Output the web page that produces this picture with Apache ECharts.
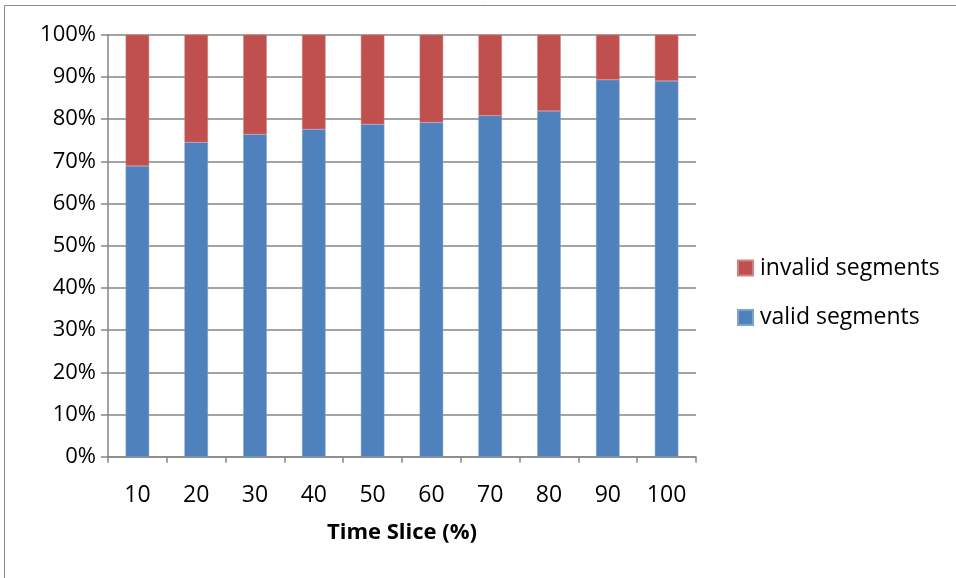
<!DOCTYPE html>
<html>
<head>
<meta charset="utf-8">
<script src="https://cdn.jsdelivr.net/npm/echarts@6/dist/echarts.min.js"></script>
<style>
  html, body { margin: 0; padding: 0; background: #fff; }
  #chart { width: 956px; height: 578px; }
</style>
</head>
<body>
<div id="chart"></div>
<script>
// Share of valid vs. invalid segments per time slice (percent of total)
const timeSlices = ['10', '20', '30', '40', '50', '60', '70', '80', '90', '100'];
const validSegments = [68.9, 74.5, 76.4, 77.6, 78.8, 79.2, 80.8, 81.9, 89.3, 89.0];
const invalidSegments = [31.1, 25.5, 23.6, 22.4, 21.2, 20.8, 19.2, 18.1, 10.7, 11.0];
const yTicks = [0, 10, 20, 30, 40, 50, 60, 70, 80, 90, 100];

const FONT = '"Open Sans", sans-serif';
const AXIS_GRAY = '#868686';

const chart = echarts.init(document.getElementById('chart'), null, { renderer: 'canvas' });

chart.setOption({
  animation: false,
  backgroundColor: '#fff',
  textStyle: { fontFamily: FONT, color: '#000' },
  graphic: [{
    type: 'polyline',
    shape: { points: [[4.5, 578], [4.5, 5.5], [956, 5.5]] },
    style: { stroke: '#8c8c8c', lineWidth: 1, fill: null }
  }],
  legend: {
    orient: 'vertical',
    left: 732,
    top: 250,
    itemWidth: 15,
    itemHeight: 15,
    itemGap: 23.5,
    data: ['invalid segments', 'valid segments'],
    textStyle: { fontFamily: FONT, fontSize: 23, lineHeight: 26, color: '#000', padding: [0, 0, 0, 2] },
    icon: 'rect'
  },
  grid: { left: 108, right: 260, top: 34.7, bottom: 121.3, containLabel: false },
  xAxis: {
    type: 'category',
    data: timeSlices,
    name: 'Time Slice (%)',
    nameLocation: 'middle',
    nameGap: 65,
    nameTextStyle: { fontFamily: FONT, fontSize: 22, fontWeight: 'bold', color: '#000' },
    axisLine: { lineStyle: { color: AXIS_GRAY, width: 1.5 } },
    axisTick: { show: true, alignWithLabel: false, length: 6, lineStyle: { color: AXIS_GRAY, width: 1.5 } },
    axisLabel: { margin: 27, fontSize: 23, color: '#000', fontFamily: FONT }
  },
  yAxis: {
    type: 'value',
    min: 0,
    max: 100,
    interval: 10,
    axisLine: { show: true, lineStyle: { color: AXIS_GRAY, width: 1.5 } },
    axisTick: { show: true, length: 7, lineStyle: { color: AXIS_GRAY, width: 1.5 } },
    splitLine: { show: true, lineStyle: { color: AXIS_GRAY, width: 1.5 } },
    axisLabel: {
      margin: 12,
      fontSize: 22,
      color: '#000',
      fontFamily: FONT,
      customValues: yTicks,
      formatter: v => v + '%'
    }
  },
  series: [
    {
      name: 'valid segments',
      type: 'bar',
      stack: 'total',
      barCategoryGap: '60%',
      data: validSegments,
      itemStyle: { color: '#4F81BD', borderColor: '#7fa2d0', borderWidth: 0.5 }
    },
    {
      name: 'invalid segments',
      type: 'bar',
      stack: 'total',
      barCategoryGap: '60%',
      data: invalidSegments,
      itemStyle: { color: '#C0504D', borderColor: '#d08280', borderWidth: 0.5 }
    }
  ]
});
</script>
</body>
</html>
